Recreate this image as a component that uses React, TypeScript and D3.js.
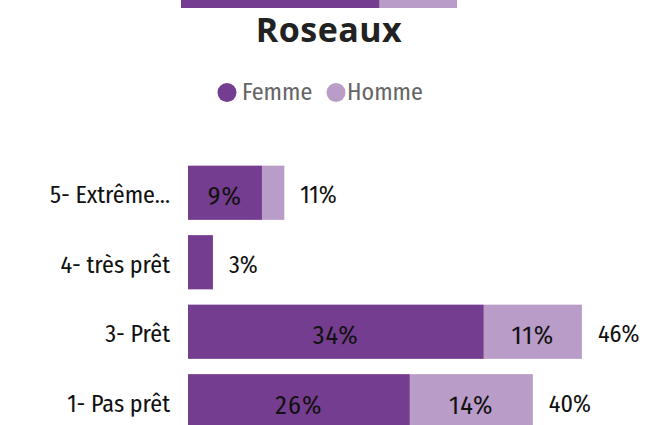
import React from "react";
import * as d3 from "d3";

const categories = ["5- Extrême...", "4- très prêt", "3- Prêt", "1- Pas prêt"];
const femme = [8.6, 2.9, 34.4, 25.8];
const homme = [2.6, 0, 11.4, 14.3];
const seriesNames = ["Femme", "Homme"];
const colors = ["#753d8f", "#b99cc8"];
const title = "Roseaux";

// last row of the previous panel, cut off by the top edge
const prevFemme = [23.1];
const prevHomme = [9.0];

const W = 651;
const H = 425;
const LABEL_FONT = "'Fira Sans Condensed', 'Roboto Condensed', 'Liberation Sans Narrow', 'DejaVu Sans Condensed', Roboto, sans-serif";
const TITLE_FONT = "'Open Sans', Lato, sans-serif";

const fmt = (v: number) => `${Math.round(v)}%`;

export default function App() {
  const x = d3.scaleLinear().domain([0, 50]).range([188, 618]);
  const xPrev = d3.scaleLinear().domain([0, 50]).range([181, 611]);
  const y = d3.scaleBand().domain(categories).range([158, 436]).paddingInner(0.22).paddingOuter(0.11);
  const bh = y.bandwidth();
  const prevY = -46;

  return (
    <svg width={W} height={H} style={{ position: "fixed", left: 0, top: 0, background: "#fff" }}>
      {prevFemme.map((f, i) => (
        <g key={"p" + i}>
          <rect x={xPrev(0)} y={prevY} width={xPrev(f) - xPrev(0)} height={54} fill={colors[0]} />
          <rect x={xPrev(f)} y={prevY} width={xPrev(f + prevHomme[i]) - xPrev(f)} height={54} fill={colors[1]} />
        </g>
      ))}
      <text x={329} y={42} textAnchor="middle" fontFamily={TITLE_FONT} fontWeight={700} fontSize={34} letterSpacing={0.5} fill="#222">
        {title}
      </text>
      <g fontFamily={LABEL_FONT} fontSize={24} fill="#666">
        <circle cx={227} cy={92.5} r={9.5} fill={colors[0]} />
        <text x={242} y={100}>{seriesNames[0]}</text>
        <circle cx={336} cy={92.5} r={9.5} fill={colors[1]} />
        <text x={347} y={100}>{seriesNames[1]}</text>
      </g>
      {categories.map((c, i) => {
        const y0 = y(c) as number;
        const cy = y0 + bh / 2;
        const f = femme[i];
        const h = homme[i];
        const tot = f + h;
        return (
          <g key={c} fontFamily={LABEL_FONT} fontSize={24}>
            <text x={170} y={cy + 10.5} textAnchor="end" fill="#111">{c}</text>
            <rect x={x(0)} y={y0} width={x(f) - x(0)} height={bh} fill={colors[0]} />
            {h > 0 && <rect x={x(f)} y={y0} width={x(tot) - x(f)} height={bh} fill={colors[1]} />}
            {x(f) - x(0) > 40 && (
              <text x={(x(0) + x(f)) / 2} y={cy + 12.5} textAnchor="middle" fontSize={26} letterSpacing={1.2} fill="#111">{fmt(f)}</text>
            )}
            {x(tot) - x(f) > 40 && (
              <text x={(x(f) + x(tot)) / 2} y={cy + 12.5} textAnchor="middle" fontSize={26} letterSpacing={1.2} fill="#111">{fmt(h)}</text>
            )}
            <text x={x(tot) + 16} y={cy + 10.5} fill="#111">{fmt(tot)}</text>
          </g>
        );
      })}
    </svg>
  );
}
